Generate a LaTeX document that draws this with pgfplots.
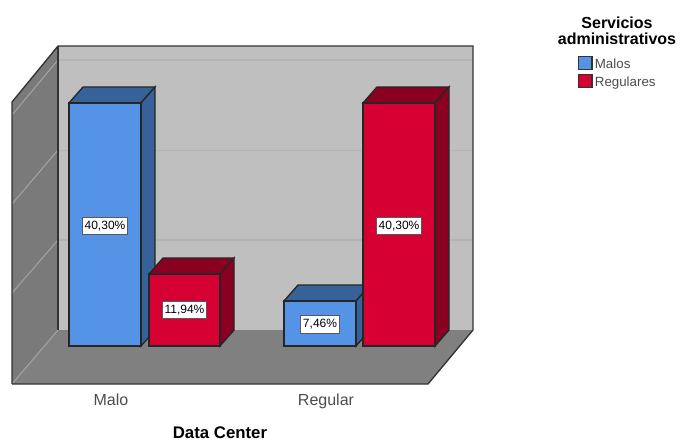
\documentclass[border=0pt]{standalone}
\usepackage{fontspec}
\setmainfont{Liberation Sans}
\usepackage{pgfplots}
\pgfplotsset{compat=1.18}

\definecolor{barblue}{HTML}{5593E6}
\definecolor{barbluedark}{HTML}{376299}
\definecolor{barred}{HTML}{D60032}
\definecolor{barreddark}{HTML}{8A0020}
\definecolor{wallback}{HTML}{BFBFBF}
\definecolor{wallside}{HTML}{7A7A7A}
\definecolor{wallfloor}{HTML}{808080}
\definecolor{frameline}{HTML}{333333}
\definecolor{gridback}{HTML}{B4B4B4}
\definecolor{gridside}{HTML}{A2A2A2}

% One horizontal unit is one pixel of the 680x439 sheet; y is the percentage.
% The box depth adds 14 units in x and 2.653 percentage points in y.
\pgfplotsset{
  face/.style={forget plot, mark=none, line width=1pt, line join=miter},
  box/.style={face, draw=black!85, fill=#1},
}

\begin{document}
\begin{tikzpicture}[x=0.75pt,y=0.75pt]
\begin{axis}[
  scale only axis, width=345.75pt, height=253.5pt,
  xmin=12, xmax=473, ymin=-6.302, ymax=49.751,
  clip=false,
  axis line style={draw=none},
  tick style={draw=none},
  ytick=\empty,
  xtick={111,326},
  xticklabels={Malo,Regular},
  xticklabel style={font=\fontsize{12}{14}\selectfont, text=black!70, yshift=-4pt},
  xlabel={Data Center},
  xlabel style={at={(axis cs:220,-14.43)}, anchor=center,
    font=\bfseries\fontsize{12.6}{14}\selectfont},
  legend style={
    at={(axis cs:578,48.10)}, anchor=north west, draw=none, fill=none,
    inner sep=0pt, outer sep=0pt, row sep=2.25pt,
    font=\fontsize{10}{11}\selectfont,
    text=black!70,
    nodes={inner sep=0pt, outer sep=0pt, text height=7pt, text depth=2pt},
  },
  legend image code/.code={
    \path[draw=none, fill=none] (0pt,0pt) -- (12.2pt,0pt);
    \draw[#1, line width=0.9pt] (0pt,-3.2pt) rectangle (10pt,6.5pt);
  },
  legend cell align=left,
]
\path[use as bounding box] (axis cs:0,-15.423) rectangle (axis cs:680,57.38);

\addlegendimage{fill=barblue, draw=black!80}
\addlegendimage{fill=barred, draw=black!80}
\addlegendentry{Malos}
\addlegendentry{Regulares}

% Chart walls and floor
\addplot[forget plot, mark=none, draw=none, fill=wallback]
  coordinates {(58,49.751) (473,49.751) (473,2.653) (58,2.653)} --cycle;
\addplot[forget plot, mark=none, draw=none, fill=wallside]
  coordinates {(12,40.464) (58,49.751) (58,2.653) (12,-6.302)} --cycle;
\addplot[forget plot, mark=none, draw=none, fill=wallfloor]
  coordinates {(12,-6.302) (428,-6.302) (473,2.653) (58,2.653)} --cycle;

% Gridlines across the back and side walls
\addplot[forget plot, mark=none, draw=gridback, line width=0.8pt] coordinates {(58,47.43) (473,47.43)};
\addplot[forget plot, mark=none, draw=gridback, line width=0.8pt] coordinates {(58,32.50) (473,32.50)};
\addplot[forget plot, mark=none, draw=gridback, line width=0.8pt] coordinates {(58,17.58) (473,17.58)};
\addplot[forget plot, mark=none, draw=gridside, line width=0.8pt] coordinates {(12,38.31) (58,47.43)};
\addplot[forget plot, mark=none, draw=gridside, line width=0.8pt] coordinates {(12,23.55) (58,32.50)};
\addplot[forget plot, mark=none, draw=gridside, line width=0.8pt] coordinates {(12,8.79) (58,17.58)};
\addplot[forget plot, mark=none, draw=gridside, line width=0.8pt] coordinates {(12,-6.302) (58,2.653)};

% Frame of the walls
\addplot[forget plot, mark=none, draw=frameline, line width=1pt, line join=miter]
  coordinates {(12,-6.302) (12,40.464) (58,49.751) (473,49.751) (473,2.653) (428,-6.302) (12,-6.302)};
\addplot[forget plot, mark=none, draw=frameline, line width=1pt] coordinates {(58,49.751) (58,2.653)};

% Malo / Malos: 40,30 %
\addplot[box=barbluedark] coordinates {(69,40.30) (141,40.30) (155,42.953) (83,42.953)} --cycle;
\addplot[box=barbluedark] coordinates {(141,0) (155,2.653) (155,42.953) (141,40.30)} --cycle;
\addplot[box=barblue] coordinates {(69,0) (141,0) (141,40.30) (69,40.30)} --cycle;

% Malo / Regulares: 11,94 %
\addplot[box=barreddark] coordinates {(149,11.94) (220,11.94) (234,14.593) (163,14.593)} --cycle;
\addplot[box=barreddark] coordinates {(220,0) (234,2.653) (234,14.593) (220,11.94)} --cycle;
\addplot[box=barred] coordinates {(149,0) (220,0) (220,11.94) (149,11.94)} --cycle;

% Regular / Malos: 7,46 %
\addplot[box=barbluedark] coordinates {(284,7.46) (356,7.46) (370,10.113) (298,10.113)} --cycle;
\addplot[box=barbluedark] coordinates {(356,0) (370,2.653) (370,10.113) (356,7.46)} --cycle;
\addplot[box=barblue] coordinates {(284,0) (356,0) (356,7.46) (284,7.46)} --cycle;

% Regular / Regulares: 40,30 %
\addplot[box=barreddark] coordinates {(363,40.30) (435,40.30) (449,42.953) (377,42.953)} --cycle;
\addplot[box=barreddark] coordinates {(435,0) (449,2.653) (449,42.953) (435,40.30)} --cycle;
\addplot[box=barred] coordinates {(363,0) (435,0) (435,40.30) (363,40.30)} --cycle;

% Value labels
\tikzset{vallabel/.style={draw=black!65, fill=white, line width=0.7pt, inner xsep=1.6pt,
  inner ysep=0pt, minimum height=13pt, font=\fontsize{9}{10}\selectfont}}
\node[vallabel] at (axis cs:105,19.95) {40,30\%};
\node[vallabel] at (axis cs:184.5,5.97) {11,94\%};
\node[vallabel] at (axis cs:320,3.6) {7,46\%};
\node[vallabel] at (axis cs:399,19.95) {40,30\%};

% Legend heading
\node[align=center, font=\bfseries\fontsize{12}{12}\selectfont, inner sep=0pt]
  at (axis cs:617,52.24) {Servicios\\administrativos};
\end{axis}
\end{tikzpicture}
\end{document}
